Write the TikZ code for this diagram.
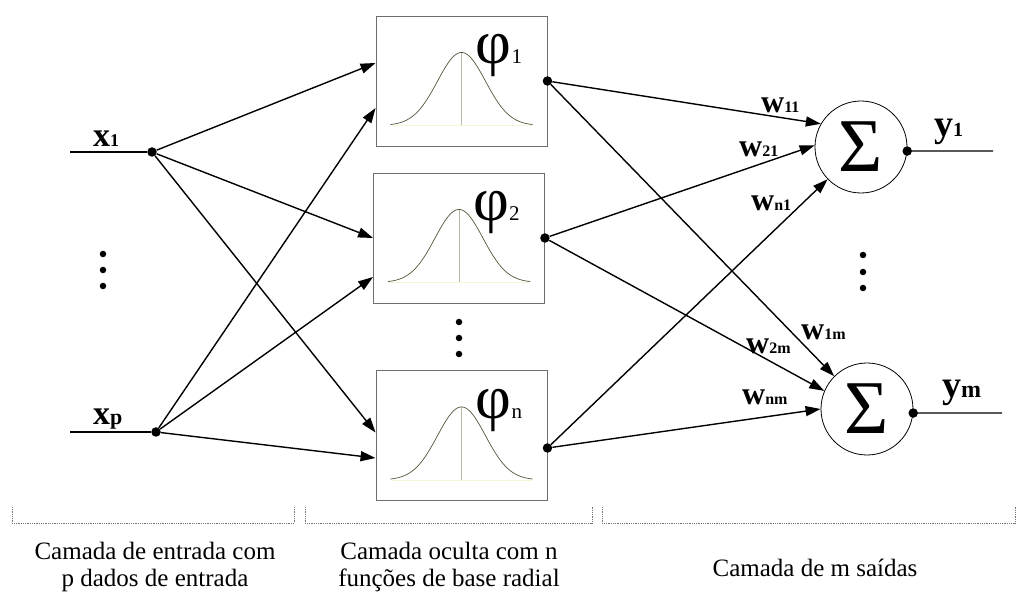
\documentclass[tikz,border=0pt]{standalone}
\usepackage{fontspec}
\setmainfont{Liberation Serif}
\usepackage{tikz}
\usetikzlibrary{arrows.meta, positioning, calc}

\definecolor{boxgray}{RGB}{110,110,110}
\definecolor{bellolive}{RGB}{85,85,60}
\definecolor{stemgray}{RGB}{185,185,165}
\definecolor{baseyellow}{RGB}{245,245,215}

\begin{document}
\begin{tikzpicture}[
    x=1pt, y=-1pt,
    rbf/.style={draw=boxgray, fill=white, rectangle, minimum width=171pt, minimum height=130pt, inner sep=0pt, line width=0.9pt},
    soma/.style={draw, circle, minimum size=92pt, inner sep=0pt, line width=0.8pt, font=\fontsize{76}{76}\selectfont},
    junction/.style={circle, fill, inner sep=0pt, minimum size=9.5pt},
    vdot/.style={circle, fill, inner sep=0pt, minimum size=6.5pt},
    link/.style={line width=1.4pt, -{Triangle[length=15pt, width=10pt]}},
    wire/.style={line width=1.4pt},
    peso/.style={font=\fontsize{32}{32}\selectfont\bfseries, inner sep=0pt, anchor=base west},
    varlab/.style={font=\fontsize{34}{34}\selectfont\bfseries, inner sep=0pt, anchor=base west},
    philab/.style={font=\fontsize{62}{62}\selectfont, inner sep=0pt, anchor=base west},
    layer/.style={draw=black!55, densely dotted, line width=0.8pt},
    caption/.style={font=\fontsize{25}{27}\selectfont, align=center}
]
\useasboundingbox (0,0) rectangle (1021,601);

\newcommand{\sub}[2]{{\fontsize{#1}{#1}\selectfont #2}}

    % Entradas
    \node[junction] (in1) at (152,152) {};
    \node[junction] (inp) at (156,432) {};
    \coordinate (x1start) at (70,152);
    \coordinate (xpstart) at (70,432);
    \draw[wire] (x1start) -- (in1);
    \draw[wire] (xpstart) -- (inp);
    \node[varlab] (labx1) at (93,147) {x\sub{18}{1}};
    \node[varlab] (labxp) at (93,425) {x\sub{22}{p}};
    \node[vdot] (ld1) at (103,254) {};
    \node[vdot] (ld2) at (103,270) {};
    \node[vdot] (ld3) at (103,286) {};

    % Camada oculta
    \node[rbf] (h1) at (461.5,81) {};
    \node[rbf] (h2) at (459,238) {};
    \node[rbf] (h3) at (461.5,435.5) {};
    \foreach \h/\k in {h1/1, h2/2, h3/n} {
        \draw[baseyellow, line width=0.6pt] ($(\h.south)+(-70,-21)$) -- ($(\h.south)+(70,-21)$);
        \draw[stemgray, line width=0.9pt] ($(\h.south)+(0,-21)$) -- ($(\h.south)+(0,-94)$);
        \draw[bellolive, line width=0.7pt, shift={(\h.south)}]
            plot[domain=-71:71, samples=80, smooth] (\x, {-21-73*exp(-\x*\x/1152)});
        \node[philab] (phi\k) at ($(\h.north west)+(100,48)$) {φ\sub{21}{\k}};
    }
    \node[vdot] (md1) at (459,322) {};
    \node[vdot] (md2) at (459,338) {};
    \node[vdot] (md3) at (459,354) {};

    % Entradas -> camada oculta
    \draw[link] (in1) -- ($(h1.west)+(0,-18)$);
    \draw[link] (in1) -- (h2.west);
    \draw[link] (in1) -- ($(h3.west)+(0,-3)$);
    \draw[link] (inp) -- ($(h1.west)+(0,27)$);
    \draw[link] (inp) -- ($(h2.west)+(0,39)$);
    \draw[link] (inp) -- ($(h3.west)+(0,22.5)$);

    % Saidas
    \node[soma] (s1) at (861,147) {Σ};
    \node[soma] (sm) at (867,409) {Σ};
    \node[junction] (o1) at (h1.east) {};
    \node[junction] (o2) at (h2.east) {};
    \node[junction] (o3) at ($(h3.east)+(0,12.5)$) {};

    \draw[link] (o1) -- (s1.150);
    \draw[link] (o2) -- (s1.178);
    \draw[link] (o3) -- (s1.224);
    \draw[link] (o1) -- (sm.135);
    \draw[link] (o2) -- (sm.157);
    \draw[link] (o3) -- (sm.180);

    \node[peso] (w11) at (761,113) {w\sub{16}{11}};
    \node[peso] (w21) at (739,157) {w\sub{16}{21}};
    \node[peso] (wn1) at (751,211) {w\sub{16}{n1}};
    \node[peso] (w1m) at (801,340) {w\sub{16}{1m}};
    \node[peso] (w2m) at (746,354) {w\sub{16}{2m}};
    \node[peso] (wnm) at (742,405) {w\sub{16}{nm}};

    \node[junction] (so1) at (s1.-5) {};
    \node[junction] (som) at (sm.-5) {};
    \coordinate (y1end) at (993,151);
    \coordinate (ymend) at (1002,413);
    \draw[wire] (so1) -- (y1end);
    \draw[wire] (som) -- (ymend);
    \node[varlab, font=\fontsize{38}{38}\selectfont\bfseries] (laby1) at (934,137) {y\sub{20}{1}};
    \node[varlab, font=\fontsize{38}{38}\selectfont\bfseries] (labym) at (942,398) {y\sub{24}{m}};
    \node[vdot] (rd1) at (863,255) {};
    \node[vdot] (rd2) at (863,272) {};
    \node[vdot] (rd3) at (863,288) {};

    % Camadas
    \draw[layer] (12,507) -- (12,523) -- (294,523) -- (294,507);
    \draw[layer] (305,507) -- (305,523) -- (592,523) -- (592,507);
    \draw[layer] (602,507) -- (602,523) -- (1015,523) -- (1015,507);
    \node[caption] (capin) at (155,567) {Camada de entrada com\\p dados de entrada};
    \node[caption] (capoc) at (449,567) {Camada oculta com n\\funções de base radial};
    \node[caption] (capout) at (815,568) {Camada de m saídas};

\end{tikzpicture}
\end{document}
